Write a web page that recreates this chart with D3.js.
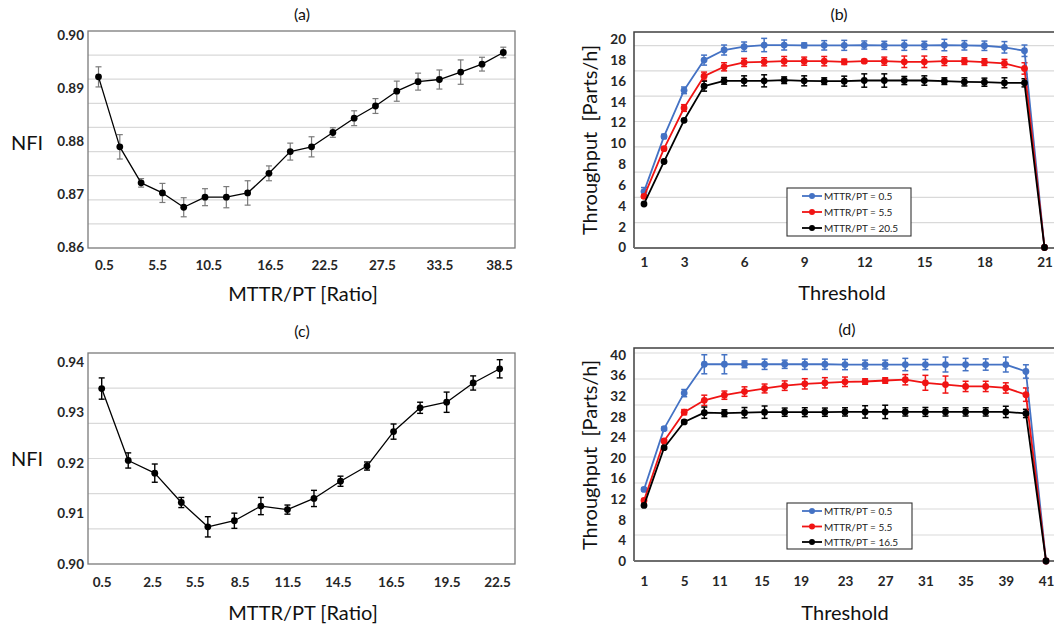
<!DOCTYPE html>
<html>
<head>
<meta charset="utf-8">
<script src="https://cdn.jsdelivr.net/npm/d3@7"></script>
<style>
  body { margin: 0; background: #fff; }
  svg { display: block; font-family: Lato, "Open Sans", sans-serif; }
</style>
</head>
<body>
<svg id="fig" width="1054" height="631"></svg>
<script>
// ---------- (a) NFI vs MTTR/PT ----------
const aRatio = [0.5, 2.5, 4.5, 6.5, 8.5, 10.5, 12.5, 14.5, 16.5, 18.5, 20.5, 22.5, 24.5, 26.5, 28.5, 30.5, 32.5, 34.5, 36.5, 38.5];
const aNFI = [0.8921, 0.8789, 0.8721, 0.8702, 0.8675, 0.8694, 0.8694, 0.8702, 0.8739, 0.8780, 0.8789, 0.8816, 0.8843, 0.8866, 0.8894, 0.8912, 0.8916, 0.8930, 0.8945, 0.8967];
const aErr = [0.0019, 0.0023, 0.0008, 0.0018, 0.0018, 0.0016, 0.0020, 0.0023, 0.0014, 0.0016, 0.0019, 0.0009, 0.0014, 0.0014, 0.0019, 0.0016, 0.0018, 0.0023, 0.0013, 0.0010];
const aTickAt = [1.0, 6.0, 10.8, 16.6, 21.7, 27.1, 32.5, 38.1];
const aTickLabels = ["0.5", "5.5", "10.5", "16.5", "22.5", "27.5", "33.5", "38.5"];
const aYTicks = [0.86, 0.87, 0.88, 0.89, 0.90];

// ---------- (c) NFI vs MTTR/PT ----------
const cNFI = [0.9347, 0.9205, 0.9180, 0.9122, 0.9074, 0.9086, 0.9115, 0.9108, 0.9130, 0.9164, 0.9194, 0.9262, 0.9309, 0.9320, 0.9358, 0.9386];
const cErr = [0.0021, 0.0015, 0.0018, 0.0010, 0.0020, 0.0015, 0.0017, 0.0009, 0.0016, 0.0010, 0.0008, 0.0015, 0.0011, 0.0020, 0.0014, 0.0018];
const cTickAt = [0, 1.9, 3.5, 5.2, 7, 8.9, 10.9, 13, 14.9];
const cTickLabels = ["0.5", "2.5", "5.5", "8.5", "11.5", "14.5", "16.5", "19.5", "22.5"];
const cYTicks = [0.90, 0.91, 0.92, 0.93, 0.94];

// ---------- (b) Throughput vs threshold ----------
const bThreshold = [1, 2, 3, 4, 5, 6, 7, 8, 9, 10, 11, 12, 13, 14, 15, 16, 17, 18, 19, 20, 21];
const bLow  = [5.37, 10.67, 15.1, 18.0, 18.97, 19.29, 19.45, 19.45, 19.42, 19.42, 19.42, 19.45, 19.42, 19.42, 19.42, 19.45, 19.42, 19.38, 19.23, 18.9, 0];
const bLowErr  = [0.39, 0.2, 0.32, 0.48, 0.48, 0.45, 0.64, 0.48, 0.23, 0.45, 0.48, 0.39, 0.39, 0.48, 0.39, 0.55, 0.45, 0.45, 0.55, 0.55, 0];
const bMid  = [4.92, 9.49, 13.4, 16.46, 17.36, 17.78, 17.84, 17.9, 17.9, 17.9, 17.84, 17.9, 17.9, 17.84, 17.84, 17.9, 17.9, 17.81, 17.68, 17.2, 0];
const bMidErr  = [0.16, 0.16, 0.32, 0.39, 0.39, 0.39, 0.39, 0.45, 0.39, 0.45, 0.26, 0.16, 0.39, 0.55, 0.55, 0.42, 0.32, 0.32, 0.39, 0.55, 0];
const bHigh = [4.18, 8.26, 12.22, 15.5, 16.01, 16.01, 16.01, 16.07, 16.01, 15.98, 15.98, 16.04, 16.04, 16.04, 16.04, 15.98, 15.91, 15.88, 15.82, 15.82, 0];
const bHighErr = [0.1, 0.1, 0.1, 0.48, 0.32, 0.48, 0.58, 0.32, 0.48, 0.32, 0.48, 0.64, 0.64, 0.39, 0.45, 0.32, 0.39, 0.39, 0.48, 0.39, 0];
const bNames = ["MTTR/PT = 0.5", "MTTR/PT = 5.5", "MTTR/PT = 20.5"];
const bXTicks = [1, 3, 6, 9, 12, 15, 18, 21];
const bYTicks = [0, 2, 4, 6, 8, 10, 12, 14, 16, 18, 20];

// ---------- (d) Throughput vs threshold ----------
const dThreshold = [1, 3, 5, 7, 9, 11, 13, 15, 17, 19, 21, 23, 25, 27, 29, 31, 33, 35, 37, 39, 41];
const dLow  = [13.9, 25.7, 32.6, 38.2, 38.2, 38.2, 38.2, 38.2, 38.2, 38.2, 38.15, 38.15, 38.15, 38.15, 38.15, 38.15, 38.15, 38.15, 38.15, 36.8, 0];
const dLowErr  = [0.3, 0.3, 0.7, 1.85, 1.85, 0.66, 1.0, 0.8, 1.0, 1.0, 1.0, 0.86, 0.86, 1.2, 1.0, 1.45, 1.2, 1.1, 1.45, 1.3, 0];
const dMid  = [11.75, 23.3, 28.9, 31.2, 32.2, 32.9, 33.5, 34.05, 34.4, 34.6, 34.8, 34.85, 35.05, 35.2, 34.6, 34.26, 33.9, 33.9, 33.6, 32.3, 0];
const dMidErr  = [0.2, 0.33, 0.5, 1.0, 0.8, 0.92, 0.86, 0.92, 1.0, 1.0, 0.92, 0.53, 0.53, 1.0, 1.45, 1.65, 1.0, 1.0, 1.0, 1.3, 0];
const dHigh = [10.8, 22.0, 27.0, 28.8, 28.7, 28.8, 28.9, 28.9, 28.9, 28.9, 28.95, 28.95, 28.95, 28.95, 28.95, 28.95, 28.95, 28.95, 28.95, 28.65, 0];
const dHighErr = [0.2, 0.2, 0.3, 1.1, 0.66, 1.0, 1.2, 0.8, 0.86, 0.8, 0.8, 1.2, 1.3, 0.8, 0.86, 0.8, 0.8, 0.8, 1.1, 0.8, 0];
const dNames = ["MTTR/PT = 0.5", "MTTR/PT = 5.5", "MTTR/PT = 16.5"];
const dTickAt = [1, 5, 8.5, 12.7, 16.6, 21, 25, 29, 33, 37, 41];
const dTickLabels = ["1", "5", "11", "15", "19", "23", "27", "31", "35", "39", "41"];
const dYTicks = [0, 4, 8, 12, 16, 20, 24, 28, 32, 36, 40];

const seriesColors = ["#4472C4", "#F01414", "#000000"];

const svg = d3.select("#fig");
svg.append("rect").attr("width", 1054).attr("height", 631).attr("fill", "#fff");

const TICK_FONT = 13.5;

function text(g, x, y, str, size, opts = {}) {
  const t = g.append("text")
    .attr("x", x).attr("y", y)
    .attr("text-anchor", opts.anchor || "middle")
    .attr("dominant-baseline", "central")
    .attr("font-size", size)
    .attr("fill", opts.fill || "#111")
    .style("white-space", "pre")
    .text(str);
  if (opts.weight) t.attr("font-weight", opts.weight);
  if (opts.rotate) t.attr("transform", `rotate(-90,${x},${y})`);
  return t;
}

function gridLines(g, box, gridScale, count) {
  g.append("g").selectAll("line")
    .data(d3.range(1, count + 1))
    .join("line")
    .attr("x1", box.x0).attr("x2", box.x1)
    .attr("y1", k => gridScale(k)).attr("y2", k => gridScale(k))
    .attr("stroke", "#d9d9d9").attr("stroke-width", 1.2);
}

function errorBars(g, xs, vals, errs, x, y, color, width) {
  const eb = g.append("g").attr("stroke", color).attr("stroke-width", width);
  vals.forEach((v, i) => {
    if (!errs[i]) return;
    const cx = x(xs[i]);
    const yt = y(v + errs[i]), yb = y(v - errs[i]);
    eb.append("line").attr("x1", cx).attr("x2", cx).attr("y1", yt).attr("y2", yb);
    eb.append("line").attr("x1", cx - 3).attr("x2", cx + 3).attr("y1", yt).attr("y2", yt);
    eb.append("line").attr("x1", cx - 3).attr("x2", cx + 3).attr("y1", yb).attr("y2", yb);
  });
}

function series(g, xs, vals, x, y, color, lw, r) {
  const line = d3.line().x((d, i) => x(xs[i])).y(d => y(d));
  g.append("path").datum(vals)
    .attr("d", line).attr("fill", "none")
    .attr("stroke", color).attr("stroke-width", lw)
    .attr("stroke-linejoin", "round");
  g.append("g").selectAll("circle").data(vals).join("circle")
    .attr("cx", (d, i) => x(xs[i])).attr("cy", d => y(d))
    .attr("r", r).attr("fill", color);
}

function styleTicks(sel, offset, isX) {
  sel.select(".domain").remove();
  sel.selectAll(".tick line").remove();
  const t = sel.selectAll(".tick text")
    .attr("font-family", "Lato, sans-serif")
    .attr("font-size", TICK_FONT)
    .attr("font-weight", 700)
    .attr("fill", "#262626");
  if (isX) t.attr("y", offset).attr("dy", "0.35em");
}

// ---------- NFI panels ----------
function nfiPanel(o) {
  const g = svg.append("g");
  const box = o.box;
  gridLines(g, box, d3.scaleLinear().domain([0, o.gridN]).range([box.y1, box.y0]), o.gridN - 1);
  g.append("rect")
    .attr("x", box.x0).attr("y", box.y0)
    .attr("width", box.x1 - box.x0).attr("height", box.y1 - box.y0)
    .attr("fill", "none").attr("stroke", "#7a7a7a").attr("stroke-width", 1.3);

  const y = d3.scaleLinear().domain(o.yDomain).range(o.yRange);
  const x = o.x;

  g.append("g").attr("transform", `translate(${box.x0 - 2},0)`)
    .call(d3.axisLeft(y).tickValues(o.yTicks).tickFormat(d3.format(".2f")).tickSize(0).tickPadding(2))
    .call(s => styleTicks(s, 0, false));

  g.append("g").attr("transform", `translate(0,${box.y1})`)
    .call(d3.axisBottom(x).tickValues(o.tickAt).tickFormat((d, i) => o.tickLabels[i]).tickSize(0))
    .call(s => styleTicks(s, o.xLabelOff, true));

  errorBars(g, o.xs, o.vals, o.errs, x, y, o.errColor, o.errWidth);
  series(g, o.xs, o.vals, x, y, "#000", 1.3, 3.4);

  text(g, o.titleX, o.titleY, o.title, 16);
  text(g, o.xTitleX, o.xTitleY, "MTTR/PT [Ratio]", 20);
  text(g, 27, o.yTitleY, "NFI", 20);
}

nfiPanel({
  title: "(a)", titleX: 302, titleY: 13,
  box: { x0: 88, y0: 31, x1: 515, y1: 248 }, gridN: 9,
  yDomain: [0.86, 0.90], yRange: [247, 35], yTicks: aYTicks,
  x: d3.scaleLinear().domain([0.5, 38.5]).range([98.5, 503.3]),
  xs: aRatio, vals: aNFI, errs: aErr,
  tickAt: aTickAt, tickLabels: aTickLabels, xLabelOff: 17,
  errColor: "#7a7a7a", errWidth: 1.2,
  xTitleX: 303, xTitleY: 293, yTitleY: 142
});

nfiPanel({
  title: "(c)", titleX: 302, titleY: 330,
  box: { x0: 88, y0: 353, x1: 515, y1: 564 }, gridN: 6,
  yDomain: [0.90, 0.94], yRange: [564.3, 361.7], yTicks: cYTicks,
  x: d3.scaleLinear().domain([0, cNFI.length - 1]).range([101.7, 499.7]),
  xs: d3.range(cNFI.length), vals: cNFI, errs: cErr,
  tickAt: cTickAt, tickLabels: cTickLabels, xLabelOff: 18,
  errColor: "#000", errWidth: 1.4,
  xTitleX: 303, xTitleY: 612, yTitleY: 458
});

// ---------- Throughput panels ----------
function tpPanel(o) {
  const g = svg.append("g");
  const box = o.box;
  gridLines(g, box, d3.scaleLinear().domain([0, 8]).range([box.y1, o.gridTop]), 8);
  g.append("path")
    .attr("d", `M${box.x1},${box.y0}H${box.x0}V${box.y1}`)
    .attr("fill", "none").attr("stroke", "#404040").attr("stroke-width", 1.5);
  g.append("line")
    .attr("x1", box.x0).attr("x2", box.x1).attr("y1", box.y1).attr("y2", box.y1)
    .attr("stroke", "#6e6e6e").attr("stroke-width", 2);

  const y = d3.scaleLinear().domain(o.yDomain).range(o.yRange);
  const x = d3.scaleLinear().domain(o.xDomain).range(o.xRange);

  g.append("g").attr("transform", `translate(${box.x0 - 2},0)`)
    .call(d3.axisLeft(y).tickValues(o.yTicks).tickFormat(d3.format("d")).tickSize(0).tickPadding(6))
    .call(s => styleTicks(s, 0, false));

  g.append("g").attr("transform", `translate(0,${box.y1})`)
    .call(d3.axisBottom(x).tickValues(o.tickAt).tickFormat((d, i) => o.tickLabels[i]).tickSize(0))
    .call(s => styleTicks(s, o.xLabelOff, true));

  o.series.forEach((s, k) => {
    errorBars(g, o.xs, s.vals, s.errs, x, y, seriesColors[k], 1.5);
  });
  o.series.forEach((s, k) => {
    series(g, o.xs, s.vals, x, y, seriesColors[k], 1.8, 3.4);
  });

  // legend
  const lg = g.append("g");
  const L = o.legend;
  lg.append("rect").attr("x", L.x0).attr("y", L.y0)
    .attr("width", L.x1 - L.x0).attr("height", L.y1 - L.y0)
    .attr("fill", "#fff").attr("stroke", "#333").attr("stroke-width", 1.1);
  o.names.forEach((name, k) => {
    const yy = L.rows[k];
    lg.append("line").attr("x1", L.x0 + 15).attr("x2", L.x0 + 35)
      .attr("y1", yy).attr("y2", yy)
      .attr("stroke", seriesColors[k]).attr("stroke-width", 1.8);
    lg.append("circle").attr("cx", L.x0 + 25).attr("cy", yy).attr("r", 3)
      .attr("fill", seriesColors[k]);
    text(lg, L.x0 + 37, yy, name, 10, { anchor: "start", fill: "#222" });
  });

  text(g, o.titleX, o.titleY, o.title, 16);
  text(g, o.xTitleX, o.xTitleY, "Threshold", 20);
  text(g, 589, o.yTitleY, "Throughput  [Parts/h]", 20, { rotate: true });
}

tpPanel({
  title: "(b)", titleX: 839, titleY: 13,
  box: { x0: 634, y0: 32, x1: 1062, y1: 248 }, gridTop: 45.6,
  yDomain: [0, 20], yRange: [247.5, 39.3], yTicks: bYTicks,
  xDomain: [1, 21], xRange: [644, 1044.5], xs: bThreshold,
  tickAt: bXTicks, tickLabels: bXTicks.map(String), xLabelOff: 14,
  series: [
    { vals: bLow, errs: bLowErr },
    { vals: bMid, errs: bMidErr },
    { vals: bHigh, errs: bHighErr }
  ],
  names: bNames,
  legend: { x0: 787, y0: 188, x1: 911, y1: 236, rows: [196, 212, 228] },
  xTitleX: 842, xTitleY: 292, yTitleY: 140
});

tpPanel({
  title: "(d)", titleX: 847, titleY: 328,
  box: { x0: 634, y0: 348, x1: 1062, y1: 561 }, gridTop: 353,
  yDomain: [0, 40], yRange: [561, 355], yTicks: dYTicks,
  xDomain: [1, 41], xRange: [644, 1046], xs: dThreshold,
  tickAt: dTickAt, tickLabels: dTickLabels, xLabelOff: 20,
  series: [
    { vals: dLow, errs: dLowErr },
    { vals: dMid, errs: dMidErr },
    { vals: dHigh, errs: dHighErr }
  ],
  names: dNames,
  legend: { x0: 787, y0: 503, x1: 912, y1: 549, rows: [511, 526.5, 542] },
  xTitleX: 845, xTitleY: 612, yTitleY: 455
});
</script>
</body>
</html>
